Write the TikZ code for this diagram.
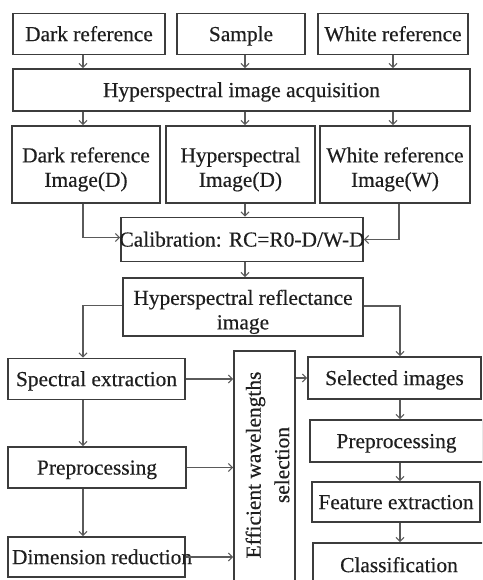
\documentclass[tikz,border=0pt]{standalone}
\usepackage{fontspec}
\setmainfont{Liberation Serif}[FakeBold=0.4]
\usetikzlibrary{arrows.meta}
\definecolor{boxc}{HTML}{3C3C3C}
\definecolor{arrc}{HTML}{5A5A5A}
\definecolor{txtc}{HTML}{1E1E1E}
\begin{document}
\begin{tikzpicture}[x=1pt,y=-1pt,
  bx/.style={draw=boxc, line width=1.7pt, inner sep=0pt, align=center, text=txtc,
    font=\fontsize{21.4}{24.5}\selectfont, text height=14.2pt, text depth=0pt},
  two/.style={text height=44.7pt, text depth=0pt},
  arr/.style={draw=arrc, line width=1.1pt, -{Straight Barb[length=4pt,width=8pt]}}]
\useasboundingbox (0,0) rectangle (482,580);
\clip (0,0) rectangle (482,580);
\coordinate (c1) at (83,0);
\coordinate (c2) at (245,0);
\coordinate (c3) at (393,0);
\coordinate (c5) at (399,0);
\coordinate (c4) at (400,0);
% top row
\node[bx, minimum width=152pt, minimum height=41pt] (dref) at (89,34) {Dark reference};
\node[bx, minimum width=128pt, minimum height=41pt] (samp) at (241,34) {Sample};
\node[bx, minimum width=150pt, minimum height=41pt] (wref) at (393,34) {White reference};
\node[bx, minimum width=457pt, minimum height=42pt] (acq) at (241.5,90) {Hyperspectral image acquisition};
% second row
\node[bx, two, minimum width=148pt, minimum height=77pt] (dimg) at (86,164.5) {Dark reference\\Image(D)};
\node[bx, two, minimum width=149pt, minimum height=77pt] (himg) at (240.5,164.5) {Hyperspectral\\Image(D)};
\node[bx, two, minimum width=150pt, minimum height=77pt] (wimg) at (395,164.5) {White reference\\Image(W)};
\node[bx, minimum width=242pt, minimum height=44pt] (cal) at (242,239.5) {\makebox[242pt]{Calibration: RC=R0-D/W-D}};
\node[bx, two, minimum width=240pt, minimum height=58pt] (refl) at (243,307) {Hyperspectral reflectance\\image};
% left column
\node[bx, minimum width=177pt, minimum height=41pt] (spec) at (96.5,379) {Spectral extraction};
\node[bx, minimum width=178pt, minimum height=41pt] (prel) at (97,467.5) {Preprocessing};
\node[bx, minimum width=177pt, minimum height=40pt] (dimr) at (96.5,557) {\makebox[177pt][l]{\hspace{4pt}Dimension reduction}};
% middle
\node[bx, minimum width=61pt, minimum height=260pt] (eff) at (264.5,481) {};
\node[inner sep=0pt, rotate=90, align=center, text=txtc,
  font=\fontsize{21.4}{28.5}\selectfont] (efft) at (267.5,465) {Efficient wavelengths\\selection};
% right column
\node[bx, minimum width=173pt, minimum height=42pt] (sel) at (394.5,378) {Selected images};
\node[bx, minimum width=173pt, minimum height=42pt] (prer) at (396.5,441) {Preprocessing};
\node[bx, minimum width=168pt, minimum height=40pt] (feat) at (396,502) {Feature extraction};
\node[bx, minimum width=172pt, minimum height=44pt] (clas) at (399,565) {Classification};
% arrows top
\draw[arr] (dref.south -| c1) -- (acq.north -| c1);
\draw[arr] (samp.south -| c2) -- (acq.north -| c2);
\draw[arr] (wref.south -| c3) -- (acq.north -| c3);
\draw[arr] (acq.south -| c1) -- (dimg.north -| c1);
\draw[arr] (acq.south -| c2) -- (himg.north -| c2);
\draw[arr] (acq.south -| c3) -- (wimg.north -| c3);
\draw[arr] (dimg.south -| c1) |- ([yshift=2pt]cal.west);
\draw[arr] (himg.south -| c2) -- (cal.north -| c2);
\draw[arr] (wimg.south -| c5) |- (cal.east);
\draw[arr] (cal.south -| c2) -- (refl.north -| c2);
\draw[arr] ([yshift=1.5pt]refl.west) -| (c1 |- spec.north);
\draw[arr] ([yshift=1pt]refl.east) -| (c4 |- sel.north);
% left column
\draw[arr] (spec.south -| c1) -- (prel.north -| c1);
\draw[arr] (prel.south -| c1) -- (dimr.north -| c1);
\draw[arr] (spec.east) -- (spec.east -| eff.west);
\draw[arr] (prel.east) -- (prel.east -| eff.west);
\draw[arr] (dimr.east) -- (dimr.east -| eff.west);
% right column
\draw[arr] (sel.west -| eff.east) -- (sel.west);
\draw[arr] (sel.south -| c4) -- (prer.north -| c4);
\draw[arr] (prer.south -| c4) -- (feat.north -| c4);
\draw[arr] (feat.south -| c4) -- (clas.north -| c4);
\end{tikzpicture}
\end{document}
